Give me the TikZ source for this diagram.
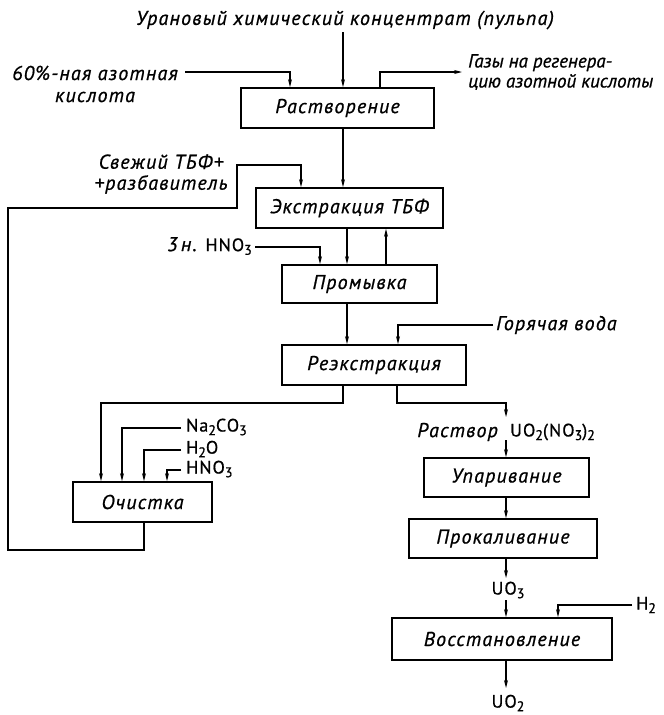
\documentclass[tikz,border=0pt]{standalone}
\usepackage{fontspec}
\setmainfont{PT Sans}
\newfontfamily\gostfont[LetterSpace=6,FakeBold=0.8]{PT Sans}
\newfontfamily\gosttight[FakeBold=0.8]{PT Sans}
\usetikzlibrary{arrows.meta}
\newcommand\chemsub[1]{\raisebox{-0.4ex}{\fontsize{14}{14}\selectfont #1}}
\newcommand\up[1]{{\upshape\fontsize{18}{21}\selectfont #1}}
\tikzset{
  txt/.style={inner sep=0pt, font=\gostfont\itshape\fontsize{20}{21}\selectfont},
  tighttxt/.style={inner sep=0pt, font=\gosttight\itshape\fontsize{19}{20}\selectfont},
  proc/.style={txt, draw, line width=1.8pt},
  flow/.style={line width=1.2pt, -{Stealth[length=8pt,width=4pt]}}
}
\begin{document}
\begin{tikzpicture}[x=1pt,y=-1pt]
\useasboundingbox (0,0) rectangle (664,715);

% process boxes
\node[proc, minimum width=193pt, minimum height=40pt] (rast) at (337.5,108) {Растворение};
\node[proc, minimum width=187pt, minimum height=40pt] (ext)  at (349.5,208) {Экстракция ТБФ};
\node[proc, minimum width=155pt, minimum height=38pt] (prom) at (359.5,284) {Промывка};
\node[proc, minimum width=184pt, minimum height=40pt] (reex) at (374,365) {Реэкстракция};
\node[proc, minimum width=139pt, minimum height=40pt] (och)  at (142.5,502) {Очистка};
\node[proc, minimum width=165pt, minimum height=39pt] (upar) at (506.5,477.5) {Упаривание};
\node[proc, minimum width=188pt, minimum height=39pt] (prok) at (503,538.5) {Прокаливание};
\node[proc, minimum width=220pt, minimum height=42pt] (vost) at (502,639) {Восстановление};

% labels
\node[txt] (src) at (345,20) {Урановый химический концентрат (пульпа)};
\node[txt, align=center] (acid) at (95,84) {60\%-ная азотная\\[1pt]кислота};
\node[tighttxt, align=left, anchor=west] (gas) at (468,72) {Газы на регенера-\\цию азотной кислоты};
\node[txt, align=center] (fresh) at (161,174) {Свежий ТБФ+\\+разбавитель};
\node[txt, anchor=east] (wash) at (252,246) {3\,н. \up{HNO\chemsub{3}}};
\node[txt, anchor=west] (hot) at (496,325) {Горячая вода};
\node[txt, anchor=west] (na) at (186,427) {\up{Na\chemsub{2}CO\chemsub{3}}};
\node[txt, anchor=west] (hw) at (186,449) {\up{H\chemsub{2}O}};
\node[txt, anchor=west] (hn) at (186,469) {\up{HNO\chemsub{3}}};
\node[txt, anchor=east] (sol) at (498,432) {Раствор};
\node[txt, anchor=west] (uno) at (510,432) {\up{UO\chemsub{2}(NO\chemsub{3})\chemsub{2}}};
\node[txt] (uo3) at (508,590) {\up{UO\chemsub{3}}};
\node[txt, anchor=west] (h2) at (636,605) {\up{H\chemsub{2}}};
\node[txt] (uo2) at (508,703) {\up{UO\chemsub{2}}};

% bend points
\coordinate (t1) at (343,32);
\coordinate (ac0) at (185,72);
\coordinate (ac1) at (290,72);
\coordinate (g0) at (380,72);
\coordinate (g1) at (462,72);
\coordinate (e1) at (347,0);
\coordinate (e2) at (386,0);
\coordinate (w0) at (255,247);
\coordinate (w1) at (320,247);
\coordinate (hw0) at (493,325);
\coordinate (hw1) at (398,325);
\coordinate (rl) at (343,403);
\coordinate (rl1) at (101,403);
\coordinate (rr) at (397,403);
\coordinate (rr1) at (506,403);
\coordinate (rr2) at (506,417);
\coordinate (rr3) at (506,440);
\coordinate (na0) at (181,428);
\coordinate (na1) at (122,428);
\coordinate (hw2) at (181,450);
\coordinate (hw3) at (144,450);
\coordinate (hn0) at (181,470);
\coordinate (hn1) at (167,470);
\coordinate (r0) at (144,550);
\coordinate (r1) at (8,550);
\coordinate (r2) at (8,208);
\coordinate (r3) at (237,208);
\coordinate (r4) at (237,165);
\coordinate (r5) at (301,165);
\coordinate (p1) at (506,578);
\coordinate (p2) at (506,600);
\coordinate (h0) at (632,605);
\coordinate (h1) at (558,605);
\coordinate (v1) at (506,688);

% main line
\draw[flow] (t1) -- (t1 |- rast.north);
\draw[flow] (ac0) -- (ac1) -- (ac1 |- rast.north);
\draw[flow] (g0 |- rast.north) -- (g0) -- (g1);
\draw[flow] (rast.south -| t1) -- (ext.north -| t1);
\draw[flow] (ext.south -| e1) -- (prom.north -| e1);
\draw[flow] (prom.north -| e2) -- (ext.south -| e2);
\draw[flow] (w0) -- (w1) -- (w1 |- prom.north);
\draw[flow] (prom.south -| e1) -- (reex.north -| e1);
\draw[flow] (hw0) -- (hw1) -- (hw1 |- reex.north);

% stripping outlets
\draw[flow] (reex.south -| rl) -- (rl) -- (rl1) -- (rl1 |- och.north);
\draw[flow] (reex.south -| rr) -- (rr) -- (rr1) -- (rr2);
\draw[flow] (rr3) -- (rr3 |- upar.north);

% solvent cleaning
\draw[flow] (na0) -- (na1) -- (na1 |- och.north);
\draw[flow] (hw2) -- (hw3) -- (hw3 |- och.north);
\draw[flow] (hn0) -- (hn1) -- (hn1 |- och.north);
\draw[flow] (och.south -| r0) -- (r0) -- (r1) -- (r2) -- (r3) -- (r4) -- (r5) -- (r5 |- ext.north);

% uranium product line
\draw[flow] (upar.south -| rr1) -- (prok.north -| rr1);
\draw[flow] (prok.south -| p1) -- (p1);
\draw[flow] (p2) -- (p2 |- vost.north);
\draw[flow] (h0) -- (h1) -- (h1 |- vost.north);
\draw[flow] (vost.south -| v1) -- (v1);
\end{tikzpicture}
\end{document}
